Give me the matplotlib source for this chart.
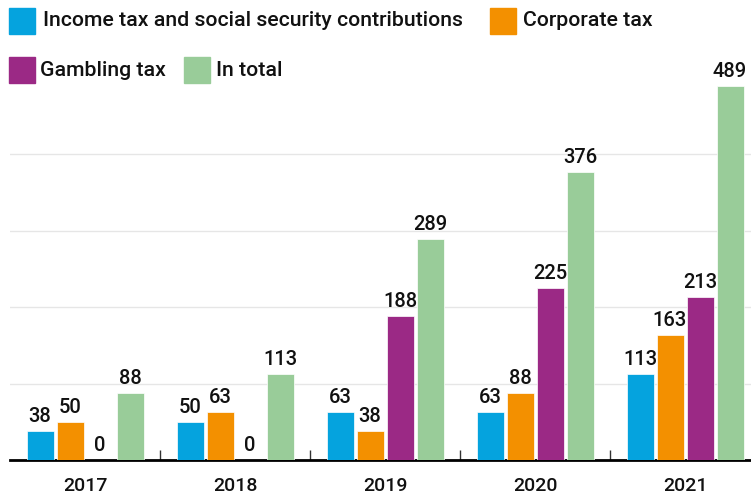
import numpy as np
import matplotlib
matplotlib.use('Agg')
import matplotlib.pyplot as plt
from matplotlib.patches import Rectangle

plt.rcParams['font.family'] = ['Roboto', 'DejaVu Sans']

years = ['2017', '2018', '2019', '2020', '2021']
series = ['Income tax and social security contributions', 'Corporate tax',
          'Gambling tax', 'In total']
income_tax = [38, 50, 63, 63, 113]
corporate_tax = [50, 63, 38, 88, 163]
gambling_tax = [0, 0, 188, 225, 213]
in_total = [88, 113, 289, 376, 489]
colors = ['#05a3de', '#f39000', '#9b2985', '#99cc99']

values = [income_tax, corporate_tax, gambling_tax, in_total]

fig = plt.figure(figsize=(7.51, 5), dpi=100)
ax = fig.add_axes([10 / 751, 40 / 500, 741 / 751, 0.765])

x = np.arange(len(years))
width = 0.18
offsets = [-0.3, -0.1, 0.1, 0.3]

for vals, off, col in zip(values, offsets, colors):
    bars = ax.bar(x + off, vals, width, color=col, edgecolor='white',
                  linewidth=0.5, zorder=3)
    for b, v in zip(bars, vals):
        ax.annotate(str(v), (b.get_x() + b.get_width() / 2, v),
                    xytext=(0, 3.5), textcoords='offset points',
                    ha='center', va='bottom', fontsize=14.5, weight='medium',
                    color='#111111', annotation_clip=False)

ax.set_xlim(-0.5, -0.5 + 741 / 150)
ax.set_ylim(0, 500)
ax.set_yticks([100, 200, 300, 400])
ax.yaxis.grid(True, color='#e6e6e6', linewidth=1, zorder=0)
ax.tick_params(axis='y', length=0, labelleft=False)

ax.set_xticks(x)
ax.set_xticklabels(years, fontsize=14, weight='medium', color='#111111')
ax.tick_params(axis='x', which='major', length=0, pad=12)
ax.set_xticks(x[:-1] + 0.5, minor=True)
ax.tick_params(axis='x', which='minor', direction='in', length=7,
               width=1, color='#333333')

for s in ['top', 'right', 'left']:
    ax.spines[s].set_visible(False)
ax.spines['bottom'].set_linewidth(2)
ax.spines['bottom'].set_color('#000000')
ax.set_axisbelow(True)

# legend drawn by hand to match the wrapped layout
legend_pos = [(9, 21, 43), (490, 21, 523), (9, 70, 40), (184, 70, 216)]
for label, col, (sx, cy, tx) in zip(series, colors, legend_pos):
    fig.patches.append(Rectangle((sx / 751, 1 - (cy + 13) / 500), 26 / 751, 26 / 500,
                                 transform=fig.transFigure, color=col))
    fig.text(tx / 751, 1 - cy / 500, label, fontsize=15.3, weight='medium',
             va='center', ha='left', color='#111111')

fig.savefig('out.png', dpi=100)
